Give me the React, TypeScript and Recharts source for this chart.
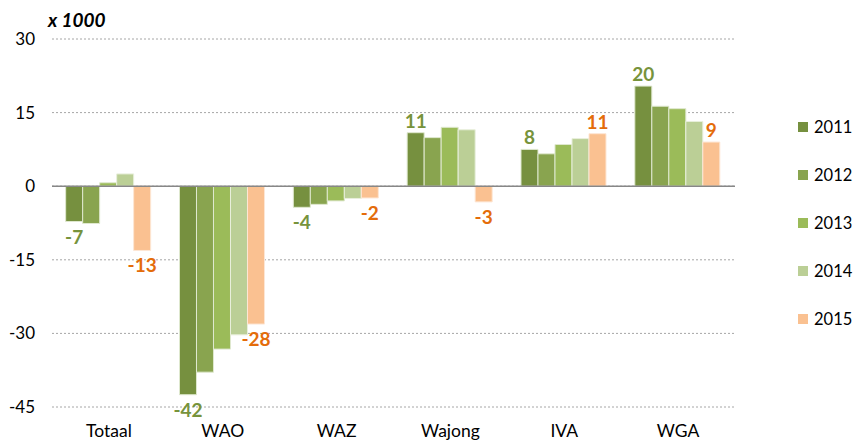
import {
  BarChart,
  Bar,
  XAxis,
  YAxis,
  CartesianGrid,
  ReferenceLine,
  LabelList,
} from 'recharts';

const categories = ['Totaal', 'WAO', 'WAZ', 'Wajong', 'IVA', 'WGA'];
const years = ['2011', '2012', '2013', '2014', '2015'];
const v2011 = [-7.2, -42.5, -4.3, 10.9, 7.5, 20.4];
const v2012 = [-7.6, -37.9, -3.7, 9.9, 6.6, 16.3];
const v2013 = [0.7, -33.2, -3.0, 12.0, 8.5, 15.8];
const v2014 = [2.5, -30.3, -2.5, 11.5, 9.7, 13.2];
const v2015 = [-13.1, -28.1, -2.4, -3.2, 10.7, 9.0];
const yTicks = [-45, -30, -15, 0, 15, 30];

const colors = ['#76903f', '#89a44f', '#9bbb59', '#bbcf96', '#fac191'];
const strokes = ['#dfe8cf', '#dfe8cf', '#dfe8cf', '#e8efdc', '#fde6d4'];

const data = categories.map((name, i) => ({
  name,
  '2011': v2011[i],
  '2012': v2012[i],
  '2013': v2013[i],
  '2014': v2014[i],
  '2015': v2015[i],
}));

const FONT = 'Lato, "Liberation Sans", sans-serif';

// value label under/over the end of the bar, rounded like the source
function makeLabel(color: string) {
  return (props: any) => {
    const { x, y, width, height, value } = props;
    const top = Math.min(y, y + height);
    const bottom = Math.max(y, y + height);
    const ty = value >= 0 ? top - 5 : bottom + 22;
    return (
      <text
        x={x + width / 2}
        y={ty}
        textAnchor="middle"
        fill={color}
        fontFamily={FONT}
        fontWeight="bold"
        fontSize={19}
      >
        {Math.round(value)}
      </text>
    );
  };
}

export default function App() {
  return (
    <div style={{ position: 'absolute', left: 0, top: 0, width: 855, height: 441, background: '#fff', fontFamily: FONT }}>
      <BarChart
        width={855}
        height={441}
        data={data}
        margin={{ top: 39, right: 120, left: 0, bottom: 0 }}
        barCategoryGap="12%"
        barGap={0}
      >
        <CartesianGrid vertical={false} stroke="#a6a6a6" strokeDasharray="2 2" />
        <XAxis
          dataKey="name"
          axisLine={false}
          tickLine={false}
          tickSize={0}
          tickMargin={18}
          height={34}
          interval={0}
          tick={{ fill: '#000', fontSize: 17.5, fontFamily: FONT }}
        />
        <YAxis
          domain={[-45, 30]}
          ticks={yTicks}
          axisLine={false}
          tickLine={false}
          tickSize={0}
          tickMargin={17}
          width={52}
          tick={{ fill: '#000', fontSize: 17, fontFamily: FONT }}
        />
        {years.map((yr, i) => (
          <Bar
            key={yr}
            dataKey={yr}
            fill={colors[i]}
            stroke={strokes[i]}
            strokeWidth={1}
            isAnimationActive={false}
          >
            {i === 0 && <LabelList dataKey={yr} content={makeLabel('#77933c')} />}
            {i === 4 && <LabelList dataKey={yr} content={makeLabel('#e46c0a')} />}
          </Bar>
        ))}
        <ReferenceLine y={0} stroke="#878787" strokeWidth={1.5} />
      </BarChart>
      <div
        style={{
          position: 'absolute',
          left: 48,
          top: 8,
          fontSize: 19,
          fontWeight: 'bold',
          fontStyle: 'italic',
          color: '#000',
        }}
      >
        x 1000
      </div>
      <div style={{ position: 'absolute', left: 798, top: 117 }}>
        {years.map((yr, i) => (
          <div key={yr} style={{ display: 'flex', alignItems: 'center', height: 20, marginBottom: 28 }}>
            <span style={{ display: 'inline-block', width: 10, height: 10, background: colors[i], marginRight: 6 }} />
            <span style={{ fontSize: 16.5, color: '#000' }}>{yr}</span>
          </div>
        ))}
      </div>
    </div>
  );
}
